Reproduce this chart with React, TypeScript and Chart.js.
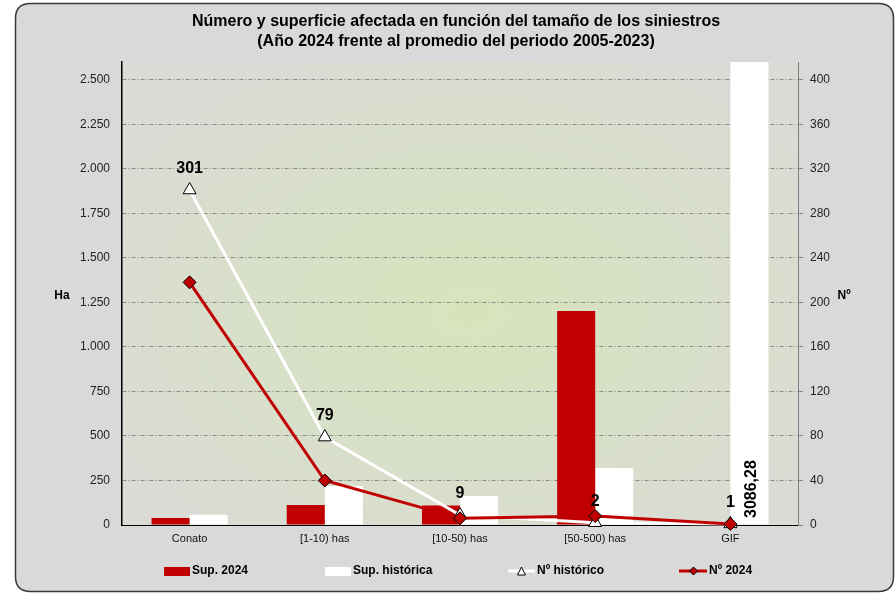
import { useEffect, useRef } from 'react';
import { Chart, registerables } from 'chart.js';

Chart.register(...registerables);

const titleLines = [
  'Número y superficie afectada en función del tamaño de los siniestros',
  '(Año 2024 frente al promedio del periodo 2005-2023)',
];
const categories = ['Conato', '[1-10) has', '[10-50) has', '[50-500) has', 'GIF'];
const sup2024 = [40, 112, 110, 1202, 0];
const supHistorica = [57, 219, 163, 320, 3086.28];
const numHistorico = [301, 79, 9, 2, 1];
const num2024 = [218, 40, 6, 8, 1];
const haMax = 2600;
const haStep = 250;
const numMax = 416;
const numStep = 40;
const gifLabel = '3086,28';
const legendItems = ['Sup. 2024', 'Sup. histórica', 'Nº histórico', 'Nº 2024'];

const RED = '#c00000';
const FONT = "'Liberation Sans', Arial, sans-serif";

const fmt = (v: number) => String(v).replace(/\B(?=(\d{3})+(?!\d))/g, '.');

const decorPlugin = {
  id: 'decor',
  beforeDraw(chart: any) {
    const { ctx, chartArea: a } = chart;
    ctx.save();
    ctx.fillStyle = '#ffffff';
    ctx.fillRect(0, 0, chart.width, chart.height);
    // rounded frame
    const x0 = 15.5, y0 = 3.5, x1 = 893.5, y1 = 591.5, r = 15;
    ctx.beginPath();
    ctx.moveTo(x0 + r, y0);
    ctx.lineTo(x1 - r, y0);
    ctx.quadraticCurveTo(x1, y0, x1, y0 + r);
    ctx.lineTo(x1, y1 - r);
    ctx.quadraticCurveTo(x1, y1, x1 - r, y1);
    ctx.lineTo(x0 + r, y1);
    ctx.quadraticCurveTo(x0, y1, x0, y1 - r);
    ctx.lineTo(x0, y0 + r);
    ctx.quadraticCurveTo(x0, y0, x0 + r, y0);
    ctx.closePath();
    ctx.fillStyle = '#d9d9d9';
    ctx.fill();
    ctx.lineWidth = 1.5;
    ctx.strokeStyle = '#3a3a3a';
    ctx.stroke();
    // plot area gradient
    const cx = (a.left + a.right) / 2 + 10;
    const cy = (a.top + a.bottom) / 2 + 20;
    const w = a.right - a.left;
    const h = a.bottom - a.top;
    ctx.save();
    ctx.beginPath();
    ctx.rect(a.left, a.top, w, h);
    ctx.clip();
    ctx.translate(cx, cy);
    ctx.scale(w / h, 1);
    const g = ctx.createRadialGradient(0, 0, 0, 0, 0, h * 0.62);
    g.addColorStop(0, '#d6e4bb');
    g.addColorStop(1, '#dadbd5');
    ctx.fillStyle = g;
    ctx.fillRect(-w, -h, 2 * w, 2 * h);
    ctx.restore();
    // title
    ctx.fillStyle = '#000';
    ctx.font = `bold 16px ${FONT}`;
    ctx.textAlign = 'center';
    ctx.textBaseline = 'middle';
    ctx.fillText(titleLines[0], 456, 22);
    ctx.fillText(titleLines[1], 456, 42);
    // axis titles
    ctx.font = `bold 12px ${FONT}`;
    ctx.fillText('Ha', 62, 296);
    ctx.fillText('Nº', 844, 296);
    ctx.restore();
  },
  afterDatasetsDraw(chart: any) {
    const { ctx } = chart;
    ctx.save();
    ctx.fillStyle = '#000';
    ctx.font = `bold 16px ${FONT}`;
    ctx.textAlign = 'center';
    ctx.textBaseline = 'middle';
    const meta = chart.getDatasetMeta(2);
    meta.data.forEach((p: any, i: number) => {
      ctx.fillText(String(numHistorico[i]), p.x, p.y - 21);
    });
    // rotated value on GIF historic bar
    const barMeta = chart.getDatasetMeta(1);
    const bar = barMeta.data[4];
    ctx.translate(bar.x + 2, chart.chartArea.bottom - 7);
    ctx.rotate(-Math.PI / 2);
    ctx.textAlign = 'left';
    ctx.fillText(gifLabel, 0, 0);
    ctx.restore();
  },
  afterDraw(chart: any) {
    const { ctx } = chart;
    ctx.save();
    const y = 571;
    ctx.font = `bold 12px ${FONT}`;
    ctx.textBaseline = 'middle';
    ctx.textAlign = 'left';
    // item 1
    ctx.fillStyle = RED;
    ctx.fillRect(164, y - 4, 26, 9);
    // item 2
    ctx.fillStyle = '#ffffff';
    ctx.fillRect(325, y - 4, 26, 9);
    // item 3
    ctx.strokeStyle = '#ffffff';
    ctx.lineWidth = 3;
    ctx.beginPath();
    ctx.moveTo(508, y);
    ctx.lineTo(535, y);
    ctx.stroke();
    ctx.beginPath();
    ctx.moveTo(521.5, y - 4);
    ctx.lineTo(525.5, y + 4);
    ctx.lineTo(517.5, y + 4);
    ctx.closePath();
    ctx.fillStyle = '#fff';
    ctx.fill();
    ctx.lineWidth = 1;
    ctx.strokeStyle = '#000';
    ctx.stroke();
    // item 4
    ctx.strokeStyle = RED;
    ctx.lineWidth = 3;
    ctx.beginPath();
    ctx.moveTo(679, y);
    ctx.lineTo(707, y);
    ctx.stroke();
    ctx.beginPath();
    ctx.moveTo(693.5, y - 4);
    ctx.lineTo(697.5, y);
    ctx.lineTo(693.5, y + 4);
    ctx.lineTo(689.5, y);
    ctx.closePath();
    ctx.fillStyle = RED;
    ctx.fill();
    ctx.lineWidth = 1;
    ctx.strokeStyle = '#000';
    ctx.stroke();
    ctx.fillStyle = '#000';
    ctx.fillText(legendItems[0], 192, y);
    ctx.fillText(legendItems[1], 353, y);
    ctx.fillText(legendItems[2], 537, y);
    ctx.fillText(legendItems[3], 709, y);
    ctx.restore();
  },
};

export default function App() {
  const ref = useRef<HTMLCanvasElement | null>(null);
  useEffect(() => {
    document.body.style.margin = '0';
    if (!ref.current) return;
    const chart = new Chart(ref.current, {
      type: 'bar',
      data: {
        labels: categories,
        datasets: [
          {
            type: 'bar',
            label: legendItems[0],
            data: sup2024,
            backgroundColor: RED,
            yAxisID: 'y',
            order: 2,
            categoryPercentage: 0.563,
            barPercentage: 1,
          },
          {
            type: 'bar',
            label: legendItems[1],
            data: supHistorica,
            backgroundColor: '#ffffff',
            yAxisID: 'y',
            order: 3,
            categoryPercentage: 0.563,
            barPercentage: 1,
          },
          {
            type: 'line',
            label: legendItems[2],
            data: numHistorico,
            borderColor: '#ffffff',
            borderWidth: 3,
            pointStyle: 'triangle',
            pointRadius: 7.5,
            pointBackgroundColor: '#ffffff',
            pointBorderColor: '#000000',
            pointBorderWidth: 1,
            yAxisID: 'y1',
            order: 1,
            clip: false,
          } as any,
          {
            type: 'line',
            label: legendItems[3],
            data: num2024,
            borderColor: RED,
            borderWidth: 3,
            pointStyle: 'rectRot',
            pointRadius: 6.5,
            pointBackgroundColor: RED,
            pointBorderColor: '#000000',
            pointBorderWidth: 1,
            yAxisID: 'y1',
            order: 0,
            clip: false,
          } as any,
        ],
      },
      options: {
        animation: false,
        responsive: true,
        maintainAspectRatio: false,
        layout: { padding: { top: 62, left: 0, right: 0, bottom: 0 } },
        plugins: {
          legend: { display: false },
          title: { display: false },
          tooltip: { enabled: false },
        },
        scales: {
          x: {
            grid: { display: false, drawTicks: false },
            border: { color: '#000', width: 1 },
            ticks: { color: '#111', font: { family: FONT, size: 11 }, padding: 7 },
            afterFit: (s: any) => { s.height = 68; },
          },
          y: {
            position: 'left',
            min: 0,
            max: haMax,
            ticks: {
              stepSize: haStep,
              color: '#222',
              font: { family: FONT, size: 12 },
              padding: 12,
              callback: (v: any) => fmt(Number(v)),
            },
            afterBuildTicks: (s: any) => {
              s.ticks = s.ticks.filter((t: any) => t.value % haStep === 0);
            },
            grid: { color: '#8a8a8a', lineWidth: 1, drawTicks: false },
            border: { color: '#000', width: 1.5, dash: [4, 2, 1, 2] },
            afterFit: (s: any) => { s.width = 122; },
          },
          y1: {
            position: 'right',
            min: 0,
            max: numMax,
            ticks: {
              stepSize: numStep,
              color: '#222',
              font: { family: FONT, size: 12 },
              padding: 7,
            },
            afterBuildTicks: (s: any) => {
              s.ticks = s.ticks.filter((t: any) => t.value % numStep === 0);
            },
            grid: { drawOnChartArea: false, drawTicks: true, tickLength: 5, color: '#808080' },
            border: { color: '#808080', width: 1 },
            afterFit: (s: any) => { s.width = 97; },
          },
        },
      } as any,
      plugins: [decorPlugin],
    });
    return () => chart.destroy();
  }, []);
  return (
    <div style={{ width: 895, height: 593, position: 'relative' }}>
      <canvas ref={ref} />
    </div>
  );
}
